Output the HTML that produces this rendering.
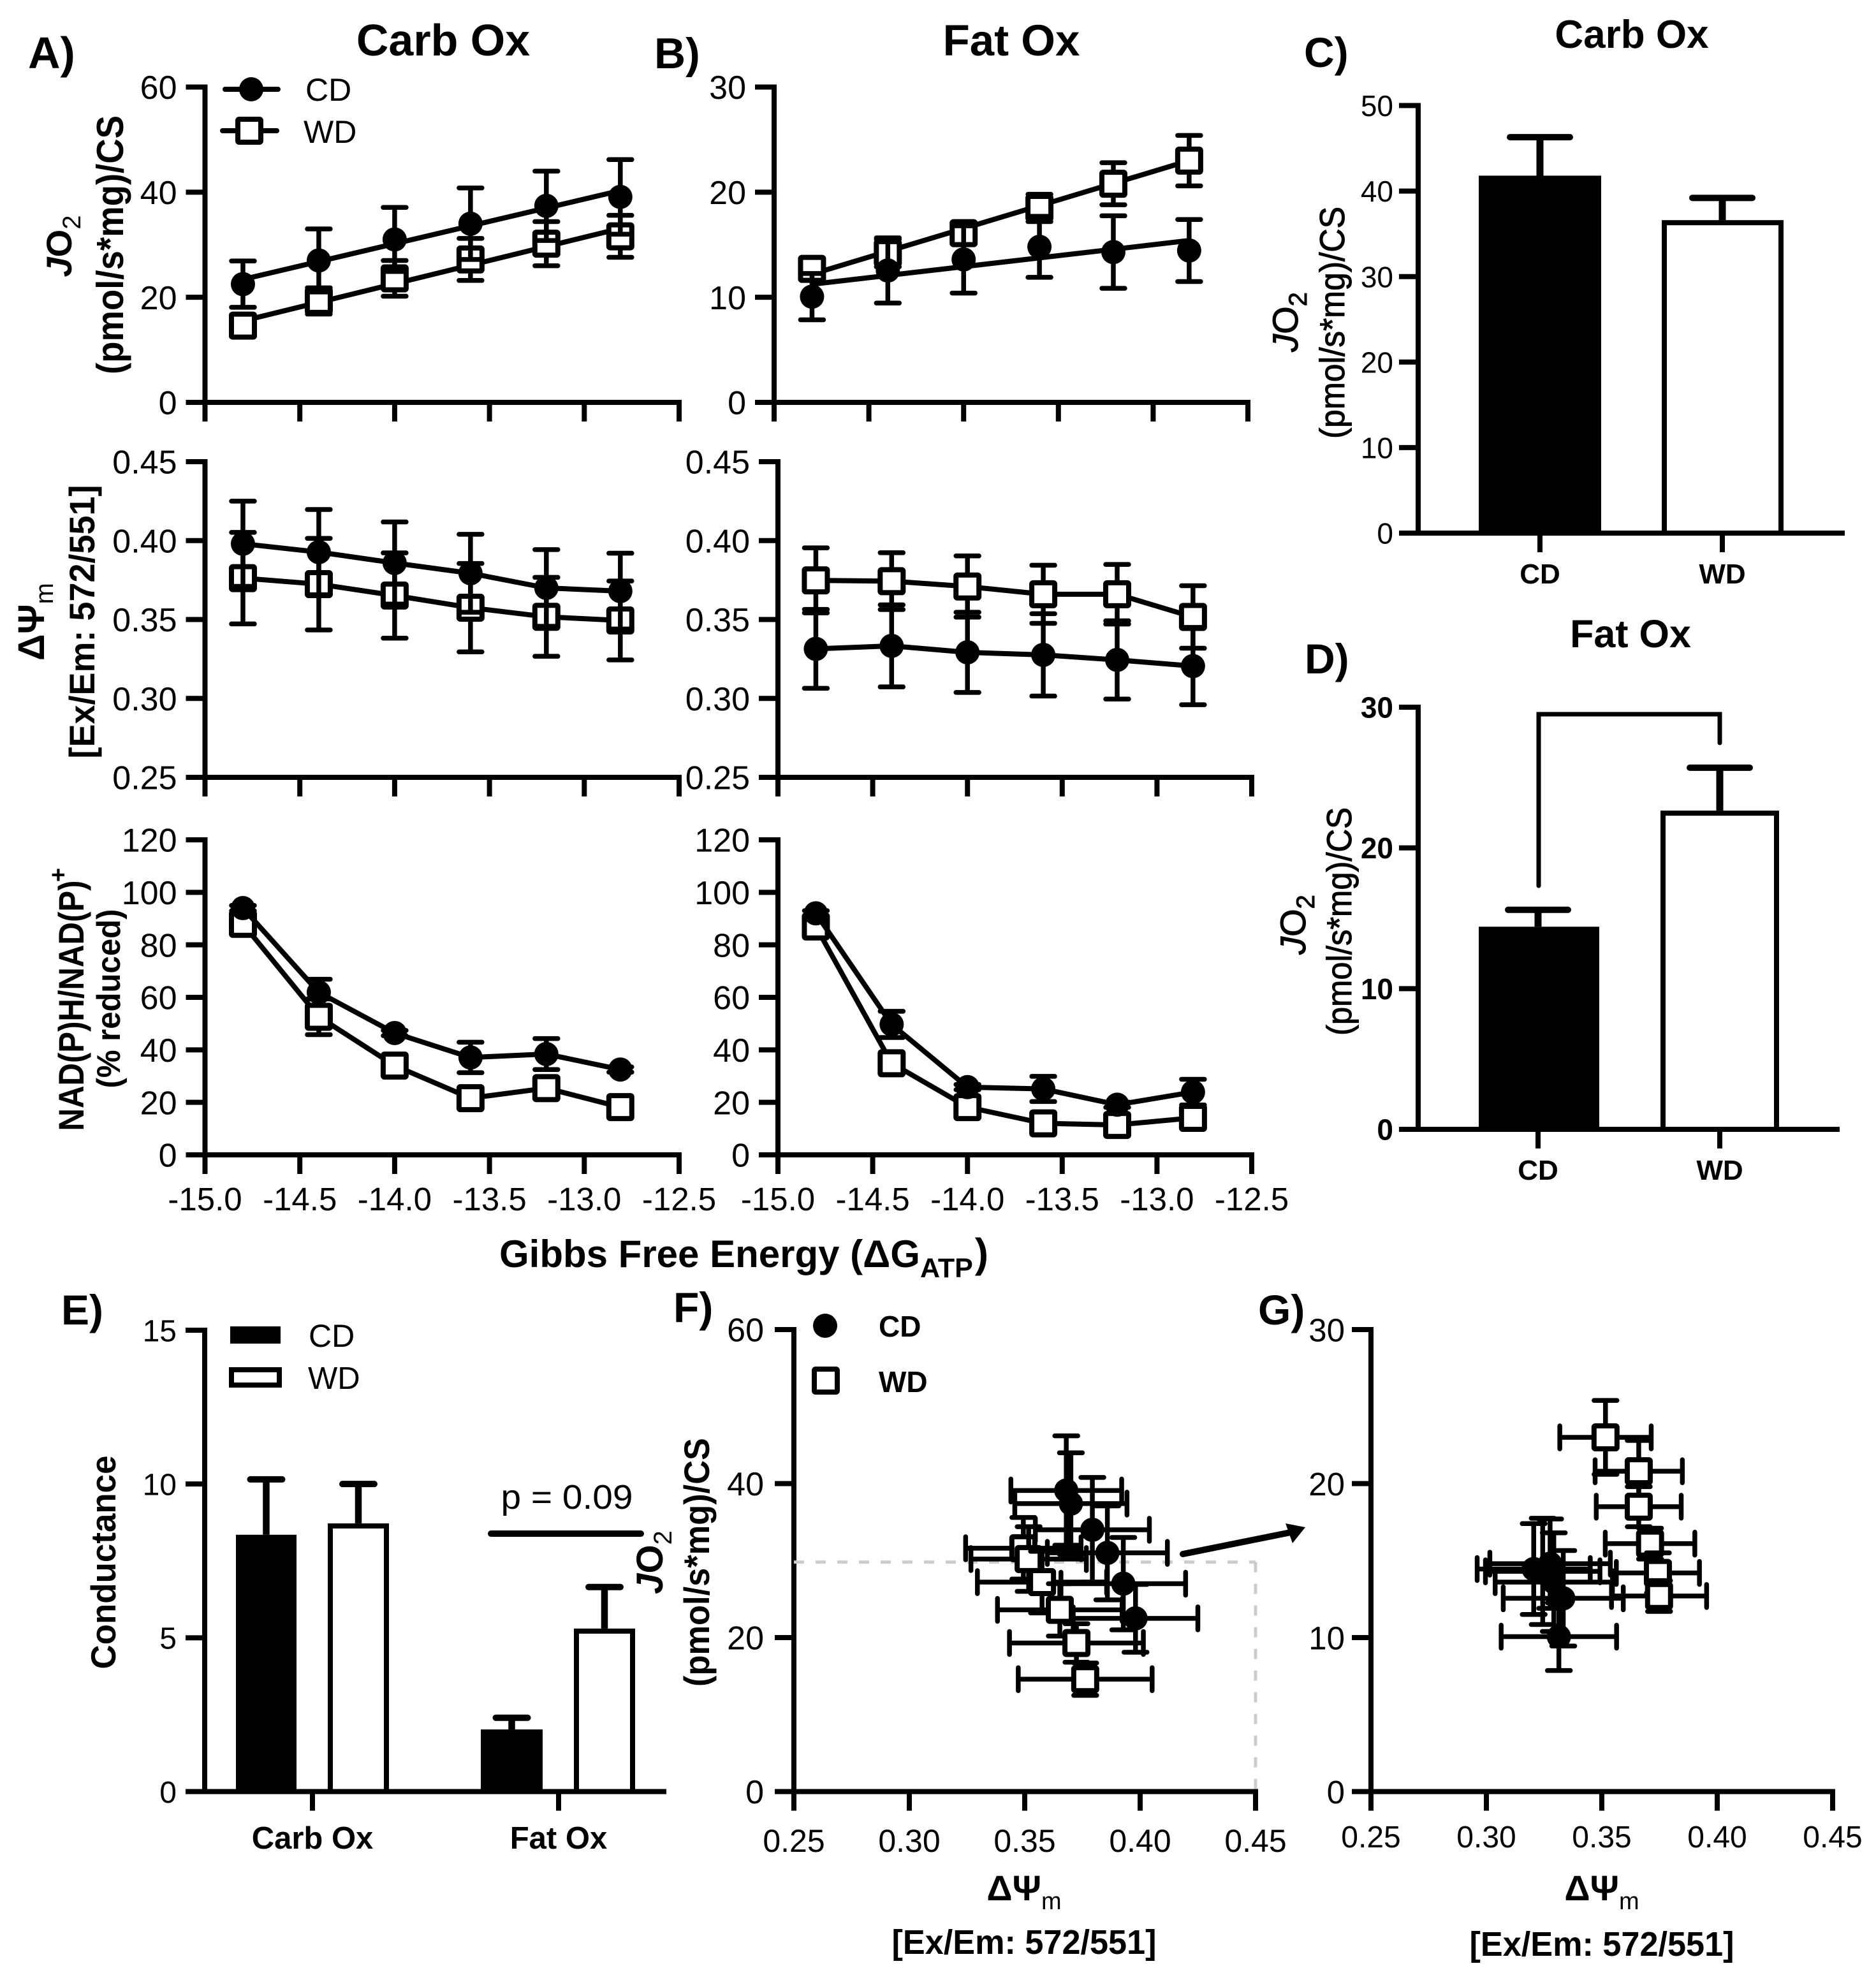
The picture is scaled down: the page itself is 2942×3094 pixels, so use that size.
<!DOCTYPE html>
<html lang="en">
<head>
<meta charset="utf-8">
<title>Mitochondrial bioenergetics panels</title>
<style>
html,body{margin:0;padding:0;background:#fff;}
body{width:2942px;height:3094px;overflow:hidden;}
svg{display:block;font-family:"Liberation Sans",Arial,sans-serif;}
text{fill:#000;}
.b{font-weight:bold;}
.m{stroke:#000;stroke-width:1;}
</style>
</head>
<body>
<svg id="figure" width="2942" height="3094" viewBox="0 0 2942 3094" xmlns="http://www.w3.org/2000/svg">
<rect width="2942" height="3094" fill="#fff"/>

<!-- panel letters and titles -->
<text class="b" x="44" y="107" font-size="70">A)</text>
<text class="b" x="1026" y="107" font-size="68">B)</text>
<text class="b" x="2045" y="105" font-size="66">C)</text>
<text class="b" x="2046" y="1056" font-size="66">D)</text>
<text class="b" x="96" y="2077" font-size="66">E)</text>
<text class="b" x="1056" y="2073" font-size="66">F)</text>
<text class="b" x="1973" y="2077" font-size="66">G)</text>

<text class="b" x="695" y="87" font-size="70" text-anchor="middle">Carb Ox</text>
<text class="b" x="1586" y="87" font-size="69" text-anchor="middle">Fat Ox</text>
<text class="b" x="2559" y="75" font-size="62" text-anchor="middle">Carb Ox</text>
<text class="b" x="2557" y="1015" font-size="61" text-anchor="middle">Fat Ox</text>

<!-- y axis titles -->
<text class="b" transform="translate(112,386) rotate(-90)" font-size="56" text-anchor="middle"><tspan font-style="italic">J</tspan>O<tspan dy="14" font-size="40" font-weight="normal">2</tspan></text>
<text class="b" transform="translate(193,384) rotate(-90)" font-size="59" text-anchor="middle" textLength="406" lengthAdjust="spacingAndGlyphs">(pmol/s*mg)/CS</text>

<text class="b" transform="translate(69,975) rotate(-90)" font-size="58" text-anchor="middle">ΔΨ<tspan dy="14" font-size="40" font-weight="normal">m</tspan></text>
<text class="b" transform="translate(148,975) rotate(-90)" font-size="56" text-anchor="middle" textLength="429" lengthAdjust="spacingAndGlyphs">[Ex/Em: 572/551]</text>

<text class="b" transform="translate(131,1577) rotate(-90)" font-size="56" text-anchor="middle" textLength="393" lengthAdjust="spacingAndGlyphs">NAD(P)H/NAD(P)</text>
<text class="b" transform="translate(104,1372) rotate(-90)" font-size="38" text-anchor="middle">+</text>
<text class="b" transform="translate(188,1566) rotate(-90)" font-size="52" text-anchor="middle" textLength="281" lengthAdjust="spacingAndGlyphs">(% reduced)</text>

<text class="m" transform="translate(2035,505) rotate(-90)" font-size="56" text-anchor="middle"><tspan font-style="italic">J</tspan>O<tspan dy="14" font-size="40">2</tspan></text>
<text class="m" transform="translate(2108,506) rotate(-90)" font-size="55" text-anchor="middle" textLength="364" lengthAdjust="spacingAndGlyphs">(pmol/s*mg)/CS</text>

<text class="m" transform="translate(2047,1450) rotate(-90)" font-size="56" text-anchor="middle"><tspan font-style="italic">J</tspan>O<tspan dy="14" font-size="40">2</tspan></text>
<text class="m" transform="translate(2119,1445) rotate(-90)" font-size="55" text-anchor="middle" textLength="358" lengthAdjust="spacingAndGlyphs">(pmol/s*mg)/CS</text>

<text class="b" transform="translate(181,2450) rotate(-90)" font-size="55" text-anchor="middle" textLength="335" lengthAdjust="spacingAndGlyphs">Conductance</text>

<text class="b" transform="translate(1039,2450) rotate(-90)" font-size="58" text-anchor="middle"><tspan font-style="italic">J</tspan>O<tspan dy="14" font-size="40" font-weight="normal">2</tspan></text>
<text class="b" transform="translate(1112,2450) rotate(-90)" font-size="56" text-anchor="middle" textLength="390" lengthAdjust="spacingAndGlyphs">(pmol/s*mg)/CS</text>

<!-- x axis titles -->
<text class="b" x="783" y="1987" font-size="60">Gibbs Free Energy (ΔG<tspan dy="16" font-size="43">ATP</tspan><tspan dy="-16" dx="3" font-size="64">)</tspan></text>

<text class="b" x="1606" y="2980" font-size="56" text-anchor="middle">ΔΨ<tspan dy="14" font-size="38" font-weight="normal">m</tspan></text>
<text class="b" x="1606" y="3064" font-size="54" text-anchor="middle" textLength="415" lengthAdjust="spacingAndGlyphs">[Ex/Em: 572/551]</text>
<text class="b" x="2512" y="2980" font-size="56" text-anchor="middle">ΔΨ<tspan dy="14" font-size="38" font-weight="normal">m</tspan></text>
<text class="b" x="2512" y="3067" font-size="54" text-anchor="middle" textLength="415" lengthAdjust="spacingAndGlyphs">[Ex/Em: 572/551]</text>

<!-- annotations -->
<text x="889" y="2366" font-size="54" text-anchor="middle" textLength="207" lengthAdjust="spacingAndGlyphs">p = 0.09</text>
<line x1="770" y1="2405" x2="1005" y2="2405" stroke="#000" stroke-width="10" stroke-linecap="round"/>
<path d="M2413 1389V1120H2697V1165" fill="none" stroke="#000" stroke-width="7" stroke-linecap="round"/>
<g>
  <line x1="1855" y1="2437" x2="2024" y2="2403" stroke="#000" stroke-width="10" stroke-linecap="round"/>
  <polygon points="2047,2395 2016,2389 2027,2420" fill="#000"/>
</g>

<g id="charts"></g>
</svg>

<script>
// ---------- shared tick labels ----------
const gibbsTicks = ['-15.0', '-14.5', '-14.0', '-13.5', '-13.0', '-12.5'];
const carbJo2Ticks = ['0', '20', '40', '60'];
const fatJo2Ticks = ['0', '10', '20', '30'];
const dpsiTicks = ['0.25', '0.30', '0.35', '0.40', '0.45'];
const nadTicks = ['0', '20', '40', '60', '80', '100', '120'];
const barCTicks = ['0', '10', '20', '30', '40', '50'];
const barDTicks = ['0', '10', '20', '30'];
const barETicks = ['0', '5', '10', '15'];

// ---------- Gibbs free energy (x) ----------
const gibbsCarb = [-14.8, -14.4, -14.0, -13.6, -13.2, -12.81];
const gibbsFat = [-14.8, -14.4, -14.0, -13.6, -13.21, -12.81];

// ---------- A) Carb Ox ----------
const carbJo2Cd = [22.5, 27.0, 31.0, 34.0, 37.4, 39.1];
const carbJo2CdErr = [4.4, 6.0, 6.1, 6.8, 6.6, 7.1];
const carbJo2CdFit = [23.4, 40.3];
const carbJo2Wd = [14.6, 19.3, 23.6, 27.2, 30.2, 31.6];
const carbJo2WdErr = [2.1, 2.5, 3.4, 4.0, 4.2, 4.0];
const carbJo2WdFit = [15.5, 33.1];

const carbDpsiCd = [0.398, 0.3927, 0.3858, 0.3793, 0.370, 0.368];
const carbDpsiCdErr = [0.027, 0.027, 0.026, 0.0247, 0.0243, 0.024];
const carbDpsiWd = [0.3762, 0.3724, 0.3652, 0.3575, 0.3517, 0.3494];
const carbDpsiWdErr = [0.029, 0.029, 0.027, 0.028, 0.025, 0.025];

const carbNadCd = [94, 61.9, 46.4, 37.1, 38.4, 32.5];
const carbNadCdErr = [1, 5, 1, 5.8, 5.9, 1];
const carbNadWd = [88, 52.6, 34, 21.6, 25.4, 18.2];
const carbNadWdErr = [1, 6.8, 1, 1, 1, 1];

// ---------- B) Fat Ox ----------
const fatJo2Cd = [10.06, 12.55, 13.6, 14.8, 14.3, 14.45];
const fatJo2CdErr = [2.2, 3.1, 3.2, 2.9, 3.45, 2.95];
const fatJo2CdFit = [11.24, 15.4];
const fatJo2Wd = [12.7, 14.2, 16.1, 18.5, 20.8, 23.0];
const fatJo2WdErr = [1.0, 1.3, 1.0, 1.3, 2.0, 2.4];
const fatJo2WdFit = [12.2, 23.0];

const fatDpsiCd = [0.3314, 0.3333, 0.3292, 0.3276, 0.3244, 0.3205];
const fatDpsiCdErr = [0.025, 0.026, 0.0254, 0.0261, 0.0248, 0.0245];
const fatDpsiWd = [0.3748, 0.3743, 0.3709, 0.366, 0.366, 0.3516];
const fatDpsiWdErr = [0.0206, 0.018, 0.0194, 0.0184, 0.0189, 0.0198];

const fatNadCd = [92, 49.7, 25.8, 25.1, 19.1, 23.9];
const fatNadCdErr = [1, 5, 1, 4.8, 1, 4.9];
const fatNadWd = [87, 34.9, 18.2, 12, 11.4, 14.1];
const fatNadWdErr = [1, 1, 1, 1, 1, 1];

// ---------- C / D / E bars ----------
const groupLabels = ['CD', 'WD'];
const barCValues = [41.8, 36.6];
const barCErrors = [4.5, 2.6];
const barDValues = [14.4, 22.65];
const barDErrors = [1.2, 3.05];
const conductanceCategories = ['Carb Ox', 'Fat Ox'];
const conductanceCd = [8.35, 2.02];
const conductanceCdErr = [1.8, 0.38];
const conductanceWd = [8.72, 5.3];
const conductanceWdErr = [1.28, 1.35];

// ---------- F / G reference line ----------
const refJo2 = [29.8];

const SVGNS = 'http://www.w3.org/2000/svg';
const root = document.getElementById('charts');

function scale(d0, d1, p0, p1) {
  return function (v) { return p0 + (v - d0) / (d1 - d0) * (p1 - p0); };
}
function group(parent, name) {
  const el = document.createElementNS(SVGNS, 'g');
  
  
  parent.appendChild(el);
  return el;
}
function seg(parent, name, x1, y1, x2, y2, w, round) {
  const el = document.createElementNS(SVGNS, 'line');
  
  
  el.setAttribute('x1', x1);
  el.setAttribute('y1', y1);
  el.setAttribute('x2', x2);
  el.setAttribute('y2', y2);
  el.setAttribute('stroke', '#000');
  el.setAttribute('stroke-width', w);
  if (round) el.setAttribute('stroke-linecap', 'round');
  parent.appendChild(el);
  return el;
}
function label(parent, name, x, y, str, size, anchor, bold) {
  const el = document.createElementNS(SVGNS, 'text');
  
  
  el.setAttribute('x', x);
  el.setAttribute('y', y);
  el.setAttribute('font-size', size);
  el.setAttribute('text-anchor', anchor);
  if (bold) el.setAttribute('font-weight', 'bold');
  el.textContent = str;
  parent.appendChild(el);
  return el;
}
function circle(parent, name, cx, cy) {
  const el = document.createElementNS(SVGNS, 'circle');
  
  
  el.setAttribute('cx', cx);
  el.setAttribute('cy', cy);
  el.setAttribute('r', 19);
  el.setAttribute('fill', '#000');
  parent.appendChild(el);
  return el;
}
function square(parent, name, cx, cy) {
  const el = document.createElementNS(SVGNS, 'rect');
  
  
  el.setAttribute('x', cx - 18);
  el.setAttribute('y', cy - 18);
  el.setAttribute('width', 36);
  el.setAttribute('height', 36);
  el.setAttribute('rx', 2);
  el.setAttribute('fill', '#fff');
  el.setAttribute('stroke', '#000');
  el.setAttribute('stroke-width', 8);
  parent.appendChild(el);
  return el;
}
function rect(parent, name, x, y, w, h, hollow) {
  const el = document.createElementNS(SVGNS, 'rect');
  
  
  el.setAttribute('x', hollow ? x + 4 : x);
  el.setAttribute('y', hollow ? y + 4 : y);
  el.setAttribute('width', hollow ? w - 8 : w);
  el.setAttribute('height', hollow ? h - 4 : h);
  el.setAttribute('fill', hollow ? '#fff' : '#000');
  if (hollow) {
    el.setAttribute('stroke', '#000');
    el.setAttribute('stroke-width', 8);
  }
  parent.appendChild(el);
  return el;
}
function polyline(parent, name, xs, ys, w) {
  const el = document.createElementNS(SVGNS, 'polyline');
  
  
  el.setAttribute('points', xs.map(function (x, i) { return x + ',' + ys[i]; }).join(' '));
  el.setAttribute('fill', 'none');
  el.setAttribute('stroke', '#000');
  el.setAttribute('stroke-width', w);
  el.setAttribute('stroke-linejoin', 'round');
  parent.appendChild(el);
  return el;
}

// y axis with ticks and labels. tickVals are the strings in the tick arrays.
function yAxis(parent, y, ticks, axisX, bottomExt, size, rightGap, bold) {
  const g = group(parent, 'y-axis');
  const vals = ticks.map(Number);
  seg(g, 'y-axis-line', axisX, y(vals[vals.length - 1]) - 4, axisX, y(vals[0]) + bottomExt, 8);
  ticks.forEach(function (t) {
    const py = y(Number(t));
    seg(g, 'y-tick', axisX - 30, py, axisX, py, 8);
    label(g, 'y-tick-label', axisX - rightGap, py + size * 0.36, t, size, 'end', bold);
  });
}
// numeric x axis with ticks; labels optional
function xAxis(parent, x, y0, ticks, showLabels, size, baseline) {
  const g = group(parent, 'x-axis');
  const vals = ticks.map(Number);
  seg(g, 'x-axis-line', x(vals[0]) - 30, y0, x(vals[vals.length - 1]) + 4, y0, 8);
  ticks.forEach(function (t, i) {
    const px = x(Number(t));
    if (i > 0) seg(g, 'x-tick', px, y0, px, y0 + 30, 8);
    if (showLabels) label(g, 'x-tick-label', px, baseline, t, size, 'middle', false);
  });
}
function vErr(parent, px, yTop, yBot) {
  seg(parent, 'error-stem', px, yTop, px, yBot, 7.5);
  seg(parent, 'error-cap', px - 18, yTop, px + 18, yTop, 7.5, true);
  seg(parent, 'error-cap', px - 18, yBot, px + 18, yBot, 7.5, true);
}
function hErr(parent, xL, xR, py) {
  seg(parent, 'error-stem', xL, py, xR, py, 7.5);
  seg(parent, 'error-cap', xL, py - 18, xL, py + 18, 7.5, true);
  seg(parent, 'error-cap', xR, py - 18, xR, py + 18, 7.5, true);
}

// Draw one group's series on a Gibbs panel
function gibbsSeries(parent, name, xs, x, y, vals, errs, fit, marker) {
  const g = group(parent, name);
  const pxs = xs.map(x);
  if (fit) {
    seg(g, name + '-fit-line', pxs[0], y(fit[0]), pxs[pxs.length - 1], y(fit[1]), 8);
  } else {
    polyline(g, name + '-line', pxs, vals.map(y), 8);
  }
  vals.forEach(function (v, i) {
    const p = group(g, name + '-point');
    vErr(p, pxs[i], y(v + errs[i]), y(v - errs[i]));
    marker(p, name + '-marker', pxs[i], y(v));
  });
}

function gibbsPanel(name, axisX, axisEnd, yTop, yBot, dMin, dMax, ticks, xs, showXLabels,
                    wd, wdErr, wdFit, cd, cdErr, cdFit) {
  const g = group(root, name);
  const x = scale(-15, -12.5, axisX, axisEnd);
  const y = scale(dMin, dMax, yBot, yTop);
  yAxis(g, y, ticks, axisX, 30, 52, 44, false);
  xAxis(g, x, yBot, gibbsTicks, showXLabels, 51, 1898);
  gibbsSeries(g, 'series-wd', xs, x, y, wd, wdErr, wdFit, square);
  gibbsSeries(g, 'series-cd', xs, x, y, cd, cdErr, cdFit, circle);
}

gibbsPanel('panel-a-jo2', 321.5, 1065, 136.5, 631, 0, 60, carbJo2Ticks, gibbsCarb, false,
  carbJo2Wd, carbJo2WdErr, carbJo2WdFit, carbJo2Cd, carbJo2CdErr, carbJo2CdFit);
gibbsPanel('panel-a-dpsi', 321.5, 1065, 724, 1219, 0.25, 0.45, dpsiTicks, gibbsCarb, false,
  carbDpsiWd, carbDpsiWdErr, null, carbDpsiCd, carbDpsiCdErr, null);
gibbsPanel('panel-a-nad', 321.5, 1065, 1317, 1811, 0, 120, nadTicks, gibbsCarb, true,
  carbNadWd, carbNadWdErr, null, carbNadCd, carbNadCdErr, null);
gibbsPanel('panel-b-jo2', 1214, 1957, 136.5, 631, 0, 30, fatJo2Ticks, gibbsFat, false,
  fatJo2Wd, fatJo2WdErr, fatJo2WdFit, fatJo2Cd, fatJo2CdErr, fatJo2CdFit);
gibbsPanel('panel-b-dpsi', 1220, 1963, 724, 1219, 0.25, 0.45, dpsiTicks, gibbsFat, false,
  fatDpsiWd, fatDpsiWdErr, null, fatDpsiCd, fatDpsiCdErr, null);
gibbsPanel('panel-b-nad', 1220, 1963, 1317, 1811, 0, 120, nadTicks, gibbsFat, true,
  fatNadWd, fatNadWdErr, null, fatNadCd, fatNadCdErr, null);

// Legend for panel A
(function () {
  const g = group(root, 'legend-a');
  const cd = group(g, 'legend-entry-cd');
  seg(cd, 'legend-line-cd', 353, 140, 436, 140, 8, true);
  circle(cd, 'legend-marker-cd', 394, 140);
  label(cd, 'legend-label-cd', 479, 158, groupLabels[0], 50, 'start', false);
  const wd = group(g, 'legend-entry-wd');
  seg(wd, 'legend-line-wd', 349, 205, 434, 205, 8, true);
  square(wd, 'legend-marker-wd', 391, 205);
  label(wd, 'legend-label-wd', 476, 224, groupLabels[1], 50, 'start', false);
})();

// Two-bar panels C and D
function twoBarPanel(name, axisX, axisEnd, yTop, yBot, dMax, ticks, values, errors,
                     bars, centers, labelBaseline, boldTicks) {
  const g = group(root, name);
  const y = scale(0, dMax, yBot, yTop);
  yAxis(g, y, ticks, axisX, 0, 46, 39, boldTicks);
  seg(g, 'x-axis-line', axisX - 30, yBot, axisEnd, yBot, 8);
  values.forEach(function (v, i) {
    const top = y(v);
    const capY = y(v + errors[i]);
    const b = group(g, 'bar-' + groupLabels[i].toLowerCase());
    seg(b, 'error-stem', centers[i], top, centers[i], capY, 11);
    seg(b, 'error-cap', centers[i] - 47, capY, centers[i] + 47, capY, 10, true);
    rect(b, 'bar-rect', bars[i][0], top, bars[i][1] - bars[i][0], yBot - top, i === 1);
    seg(b, 'x-tick', centers[i], yBot, centers[i], yBot + 30, 8);
    label(b, 'x-tick-label', centers[i], labelBaseline, groupLabels[i], 44, 'middle', true);
  });
}
twoBarPanel('panel-c-bars', 2224, 2893, 165.5, 836, 50, barCTicks, barCValues, barCErrors,
  [[2319, 2511], [2606, 2797]], [2415, 2701], 915, false);
twoBarPanel('panel-d-bars', 2224, 2885, 1109, 1771, 30, barDTicks, barDValues, barDErrors,
  [[2319, 2508], [2604, 2790]], [2412, 2697], 1850, true);

// Panel E
(function () {
  const g = group(root, 'panel-e-conductance');
  const y = scale(0, 15, 2809.5, 2086);
  const yBot = y(0);
  yAxis(g, y, barETicks, 321, 0, 48, 44, false);
  seg(g, 'x-axis-line', 291, yBot, 1045, yBot, 8);
  const cdSlots = [[370, 465], [754, 851]];
  const wdSlots = [[514, 610], [900, 996]];
  const tickX = [490, 876];
  function bar(slot, v, e, hollow, name) {
    const b = group(g, name);
    const c = (slot[0] + slot[1]) / 2;
    const top = y(v);
    const capY = y(v + e);
    seg(b, 'error-stem', c, top, c, capY, 10.5);
    seg(b, 'error-cap', c - 25, capY, c + 25, capY, 10, true);
    rect(b, 'bar-rect', slot[0], top, slot[1] - slot[0], yBot - top, hollow);
  }
  conductanceCategories.forEach(function (cat, i) {
    bar(cdSlots[i], conductanceCd[i], conductanceCdErr[i], false, 'bar-cd-' + i);
    bar(wdSlots[i], conductanceWd[i], conductanceWdErr[i], true, 'bar-wd-' + i);
    seg(g, 'x-tick', tickX[i], yBot, tickX[i], yBot + 30, 8);
    label(g, 'x-tick-label', tickX[i], 2899, cat, 49, 'middle', true);
  });
  const cdLegend = group(g, 'legend-entry-cd');
  rect(cdLegend, 'legend-swatch-cd', 361, 2080, 79, 27, false);
  label(cdLegend, 'legend-label-cd', 484, 2112, groupLabels[0], 50, 'start', false);
  const wdLegend = group(g, 'legend-entry-wd');
  const sw = rect(wdLegend, 'legend-swatch-wd', 359, 2144, 83, 32, true);
  sw.setAttribute('height', 24);
  label(wdLegend, 'legend-label-wd', 483, 2178, groupLabels[1], 49, 'start', false);
})();

// Scatter panels F and G (membrane potential vs JO2, reuse A / B series)
function scatterSeries(parent, name, x, y, xv, xe, yv, ye, marker, reverse) {
  const g = group(parent, name);
  const idx = yv.map(function (_, i) { return i; });
  if (reverse) idx.reverse();
  idx.forEach(function (i) {
    const p = group(g, name + '-point');
    hErr(p, x(xv[i] - xe[i]), x(xv[i] + xe[i]), y(yv[i]));
    vErr(p, x(xv[i]), y(yv[i] + ye[i]), y(yv[i] - ye[i]));
    marker(p, name + '-marker', x(xv[i]), y(yv[i]));
  });
}
function scatterPanel(name, axisX, axisEnd, dMax, yTicks, ySize, xSize, gap, baseline,
                      cdX, cdXe, cdY, cdYe, wdX, wdXe, wdY, wdYe) {
  const g = group(root, name);
  const x = scale(0.25, 0.45, axisX, axisEnd);
  const y = scale(0, dMax, 2809.5, 2085);
  yAxis(g, y, yTicks, axisX, 30, ySize, gap, false);
  xAxis(g, x, y(0), dpsiTicks, true, xSize, baseline);
  if (name === 'panel-f-scatter') {
    const ref = group(g, 'reference-box');
    const h = seg(ref, 'reference-line-horizontal', x(0.25), y(refJo2[0]), x(0.45), y(refJo2[0]), 5);
    h.setAttribute('stroke', '#ccc');
    h.setAttribute('stroke-dasharray', '16 18');
    const v = seg(ref, 'reference-line-vertical', x(0.45), y(refJo2[0]), x(0.45), y(0) - 4, 5);
    v.setAttribute('stroke', '#ccc');
    v.setAttribute('stroke-dasharray', '16 18');
  }
  scatterSeries(g, 'series-cd', x, y, cdX, cdXe, cdY, cdYe, circle, false);
  scatterSeries(g, 'series-wd', x, y, wdX, wdXe, wdY, wdYe, square, true);
}
scatterPanel('panel-f-scatter', 1245, 1969, 60, carbJo2Ticks, 52, 50, 47, 2904,
  carbDpsiCd, carbDpsiCdErr, carbJo2Cd, carbJo2CdErr,
  carbDpsiWd, carbDpsiWdErr, carbJo2Wd, carbJo2WdErr);
scatterPanel('panel-g-scatter', 2150, 2874, 30, fatJo2Ticks, 51, 48, 41, 2897,
  fatDpsiCd, fatDpsiCdErr, fatJo2Cd, fatJo2CdErr,
  fatDpsiWd, fatDpsiWdErr, fatJo2Wd, fatJo2WdErr);

// Legend for panel F
(function () {
  const g = group(root, 'legend-f');
  const cd = group(g, 'legend-entry-cd');
  circle(cd, 'legend-marker-cd', 1294, 2079);
  label(cd, 'legend-label-cd', 1378, 2096, groupLabels[0], 46, 'start', true);
  const wd = group(g, 'legend-entry-wd');
  square(wd, 'legend-marker-wd', 1295, 2165);
  label(wd, 'legend-label-wd', 1378, 2183, groupLabels[1], 46, 'start', true);
})();
</script>
</body>
</html>
